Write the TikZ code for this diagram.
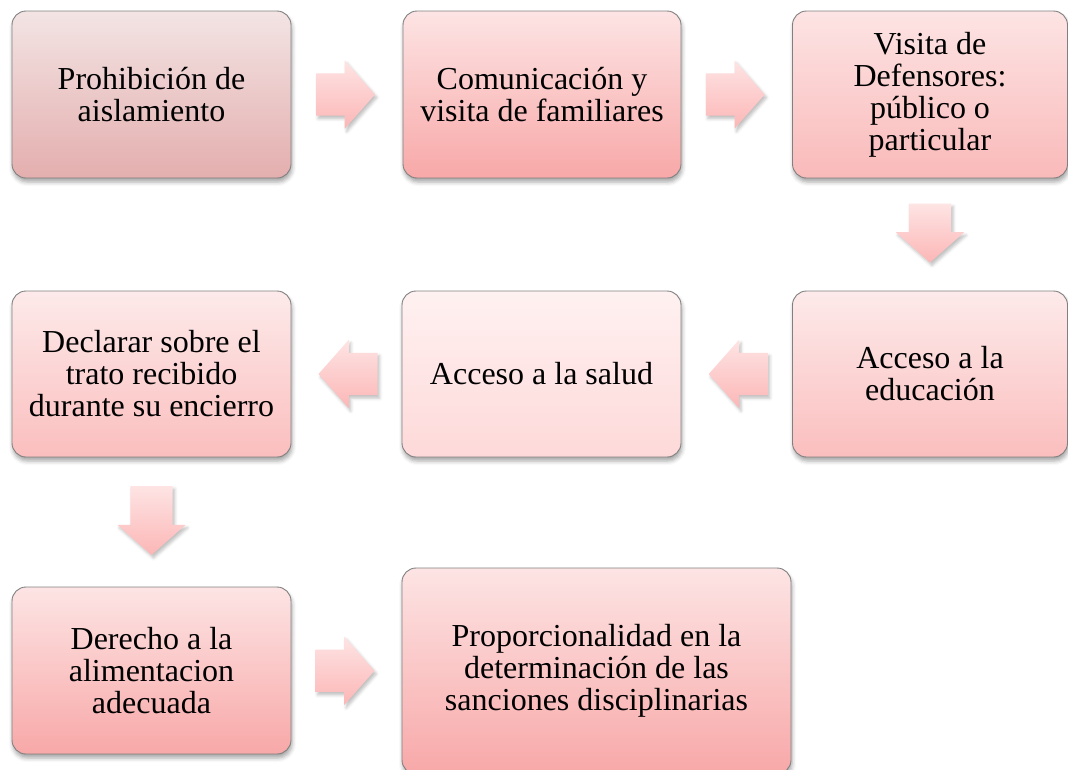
\documentclass[tikz,border=0pt]{standalone}
\usepackage{fontspec}
\setmainfont{Liberation Serif}
\usetikzlibrary{shapes.arrows,shadows.blur,calc}

\definecolor{rosaA}{RGB}{243,228,228}
\definecolor{rosaB}{RGB}{228,174,174}
\definecolor{rosaC}{RGB}{253,228,228}
\definecolor{rosaD}{RGB}{248,168,168}
\definecolor{rosaE}{RGB}{253,234,234}
\definecolor{rosaF}{RGB}{251,190,190}
\definecolor{rosaG}{RGB}{255,241,241}
\definecolor{rosaH}{RGB}{254,217,217}
\definecolor{flechaA}{RGB}{254,228,228}
\definecolor{flechaB}{RGB}{252,182,182}

\begin{document}
\begin{tikzpicture}
				[
				x=1pt, y=-1pt, font=\fontsize{32}{32}\selectfont,
				%Kasten
				caja/.style={draw=black!50, line width=0.9pt, rounded corners=14pt, align=center, inner sep=0pt,
					minimum width=279pt, minimum height=167pt,
					blur shadow={shadow xshift=1pt, shadow yshift=-4pt, shadow blur radius=4pt, shadow opacity=35}},
				%Blockpfeil
				flecha/.style={single arrow, inner sep=0pt, outer sep=0pt, draw=none, anchor=tail,
					minimum height=59pt, single arrow head extend=13pt, single arrow tip angle=97,
					top color=flechaA, bottom color=flechaB,
					blur shadow={shadow xshift=2pt, shadow yshift=-3pt, shadow blur radius=3pt, shadow opacity=25}},
				flechaH/.style={flecha, shape border rotate=#1, text height=42pt, text depth=0pt, text width=0pt},
				flechaV/.style={flecha, shape border rotate=#1, text width=42pt, text height=0pt, text depth=0pt}
				]
				
				%Rahmen
				\clip (0,0) rectangle (1068,769);
				
				%Reihe 1
				\node[caja, top color=rosaA, bottom color=rosaB] (b1) at (151.5,94.5) {Prohibición de\\aislamiento};
				\node[caja, top color=rosaC, bottom color=rosaD, minimum width=278pt] (b2) at (542,94.5) {Comunicación y\\visita de familiares};
				\node[caja, top color=rosaC, bottom color=rosaD!80!white, minimum width=275pt] (b3) at (930,94.5) {Visita de\\Defensores:\\público o\\particular};
				
				%Reihe 2
				\node[caja, top color=rosaE, bottom color=rosaF, minimum height=166pt] (b4) at (151.5,374) {Declarar sobre el\\trato recibido\\durante su encierro};
				\node[caja, top color=rosaG, bottom color=rosaH, minimum height=166pt] (b5) at (541.5,374) {Acceso a la salud};
				\node[caja, top color=rosaE, bottom color=rosaF, minimum width=275pt, minimum height=166pt] (b6) at (930,374) {Acceso a la\\educación};
				
				%Reihe 3
				\node[caja, top color=rosaC, bottom color=rosaD] (b7) at (151.5,670.5) {Derecho a la\\alimentacion\\adecuada};
				\node[caja, top color=rosaC, bottom color=rosaD, minimum width=389pt, minimum height=206pt] (b8) at (596.5,671) {Proporcionalidad en la\\determinación de las\\sanciones disciplinarias};
				
				%Pfeile
				\node[flechaH=0] (f12) at ($(b1.east)!0.5!(b2.west)+(-31,0)$) {};
				\node[flechaH=0] (f23) at ($(b2.east)!0.5!(b3.west)+(-31,0)$) {};
				\node[flechaV=270] (f36) at ($(b3.south)!0.5!(b6.north)+(0,-31)$) {};
				\node[flechaH=180] (f65) at ($(b6.west)!0.5!(b5.east)+(31,0)$) {};
				\node[flechaH=180] (f54) at ($(b5.west)!0.5!(b4.east)+(31,0)$) {};
				\node[flechaV=270, minimum height=69pt] (f47) at ($(b4.south)!0.5!(b7.north)+(0,-36)$) {};
				\node[flechaH=0] (f78) at ($(b7.east)!0.5!(b8.west)+(-31,0)$) {};
			\end{tikzpicture}
\end{document}
